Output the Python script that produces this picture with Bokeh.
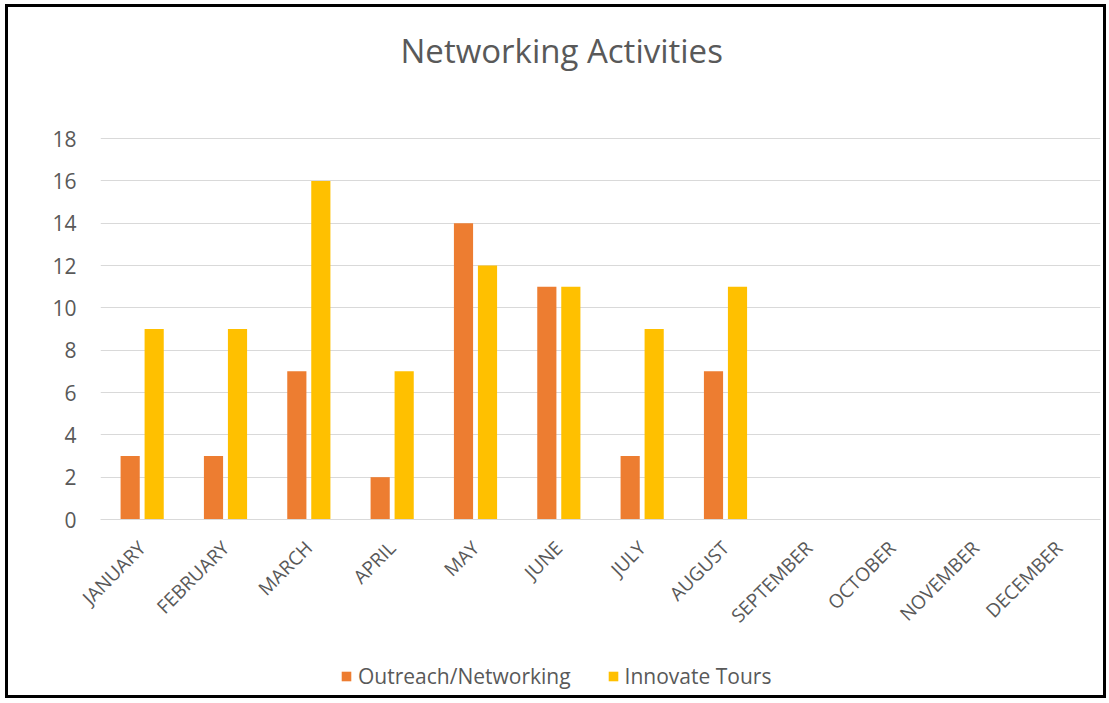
from math import pi
from bokeh.plotting import figure
from bokeh.layouts import column
from bokeh.models import (ColumnDataSource, Legend, LegendItem, FixedTicker, Title,
                          Range1d, FactorRange)
from bokeh.transform import dodge
from bokeh.embed import file_html
from bokeh.resources import INLINE

months = ["JANUARY", "FEBRUARY", "MARCH", "APRIL", "MAY", "JUNE", "JULY",
          "AUGUST", "SEPTEMBER", "OCTOBER", "NOVEMBER", "DECEMBER"]
outreach = [3, 3, 7, 2, 14, 11, 3, 7, 0, 0, 0, 0]
tours = [9, 9, 16, 7, 12, 11, 9, 11, 0, 0, 0, 0]
y_ticks = [0, 2, 4, 6, 8, 10, 12, 14, 16, 18]
series_names = ["Outreach/Networking", "Innovate Tours"]
colors = ["#ED7D31", "#FFC000"]

src = ColumnDataSource(dict(month=months, outreach=outreach, tours=tours))

FONT = "Open Sans"
GREY = "#595959"

p = figure(x_range=months, y_range=(0, 18.05), width=1095, height=652,
           output_backend="svg", toolbar_location=None,
           min_border_left=92, min_border_right=3, min_border_top=130,
           min_border_bottom=140)

# spacer nearest the frame, then the title above it
p.title = None
spacer = Title(text=" ", text_font_size="2px", standoff=44)
p.add_layout(spacer, "above")
title = Title(text="Networking Activities", align="left", offset=300,
              text_font=FONT, text_font_size="33px", text_font_style="normal",
              text_color=GREY, standoff=34)
p.add_layout(title, "above")

p.vbar(x=dodge("month", -0.144, range=p.x_range), top="outreach", width=0.23,
       source=src, fill_color=colors[0], line_color=None)
p.vbar(x=dodge("month", 0.144, range=p.x_range), top="tours", width=0.23,
       source=src, fill_color=colors[1], line_color=None)

p.outline_line_color = None
p.xgrid.grid_line_color = None
p.ygrid.grid_line_color = "#D9D9D9"
p.ygrid.grid_line_width = 1
p.yaxis.ticker = FixedTicker(ticks=y_ticks)

for ax in (p.xaxis[0], p.yaxis[0]):
    ax.major_tick_line_color = None
    ax.minor_tick_line_color = None
    ax.major_label_text_font = FONT
    ax.major_label_text_color = GREY
p.yaxis.axis_line_color = None
p.xaxis.axis_line_color = "#D9D9D9"
p.yaxis.major_label_text_font_size = "21px"
p.xaxis.major_label_text_font_size = "19px"
p.xaxis.major_label_orientation = pi / 4
p.yaxis.major_label_standoff = 18
p.xaxis.major_label_standoff = 19

# legend strip below the chart (its bars sit outside its y range, so only the legend shows)
lf = figure(x_range=FactorRange(*months), y_range=Range1d(100, 101),
            width=1095, height=36, output_backend="svg", toolbar_location=None,
            x_axis_location=None, y_axis_location=None, min_border=0)
lf.outline_line_color = None
lf.grid.visible = False
l1 = lf.vbar(x=dodge("month", -0.144, range=lf.x_range), top="outreach", width=0.23,
             source=src, fill_color=colors[0], line_color=None)
l2 = lf.vbar(x=dodge("month", 0.144, range=lf.x_range), top="tours", width=0.23,
             source=src, fill_color=colors[1], line_color=None)

legend = Legend(items=[LegendItem(label=series_names[0], renderers=[l1]),
                       LegendItem(label=series_names[1], renderers=[l2])],
                orientation="horizontal", location=(240, 5))
legend.label_text_font = FONT
legend.label_text_font_size = "21px"
legend.label_text_color = GREY
legend.glyph_width = 12
legend.glyph_height = 12
legend.label_standoff = 6
legend.spacing = 36
legend.padding = 0
legend.margin = 0
legend.border_line_color = None
legend.background_fill_alpha = 0
lf.add_layout(legend)

root = column(p, lf, spacing=0)
root.margin = (4, 0, 0, 5)
root.styles = {"border": "3px solid #000000"}

open("out.html", "w").write(file_html(root, INLINE))
